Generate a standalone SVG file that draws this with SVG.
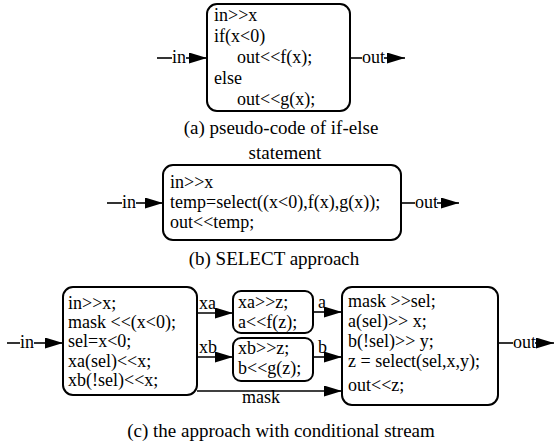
<svg xmlns="http://www.w3.org/2000/svg" width="555" height="447" viewBox="0 0 555 447" font-family="Liberation Serif, Times New Roman, DejaVu Serif, serif">
<style>
.box{fill:#fff;stroke:#000;stroke-width:2}
.ln{fill:none;stroke:#000;stroke-width:1.6}
text{font-family:'Liberation Serif','Times New Roman','DejaVu Serif',serif;font-size:18px;fill:#000}
.cap{font-size:19px;text-anchor:middle}
</style>
<defs>
<marker id="ah" markerUnits="userSpaceOnUse" markerWidth="20" markerHeight="12" refX="18" refY="5.5" orient="auto">
<path d="M0,0 L18,5.5 L0,11 z" fill="#000"/>
</marker>
</defs>
<rect width="555" height="447" fill="#fff"/>

<g id="connectors">
<line class="ln" x1="157" y1="58" x2="172" y2="58"/>
<line class="ln" x1="186" y1="58" x2="207" y2="58" marker-end="url(#ah)"/>
<line class="ln" x1="350" y1="58" x2="362" y2="58"/>
<line class="ln" x1="384" y1="58" x2="405" y2="58" marker-end="url(#ah)"/>
<text x="172" y="63">in</text>
<text x="362" y="63">out</text>
<line class="ln" x1="107" y1="203" x2="122" y2="203"/>
<line class="ln" x1="136" y1="203" x2="163" y2="203" marker-end="url(#ah)"/>
<line class="ln" x1="401" y1="203" x2="415" y2="203"/>
<line class="ln" x1="437" y1="203" x2="459" y2="203" marker-end="url(#ah)"/>
<text x="122" y="208">in</text>
<text x="415" y="208">out</text>
<line class="ln" x1="7" y1="343" x2="20" y2="343"/>
<line class="ln" x1="34" y1="343" x2="63" y2="343" marker-end="url(#ah)"/>
<text x="20" y="348">in</text>
<line class="ln" x1="197" y1="313" x2="233" y2="313" marker-end="url(#ah)"/>
<text x="199" y="309">xa</text>
<line class="ln" x1="197" y1="357" x2="233" y2="357" marker-end="url(#ah)"/>
<text x="199" y="353">xb</text>
<line class="ln" x1="197" y1="391" x2="342" y2="391" marker-end="url(#ah)"/>
<text x="242" y="403">mask</text>
<line class="ln" x1="313" y1="312" x2="342" y2="312" marker-end="url(#ah)"/>
<text x="318" y="308">a</text>
<line class="ln" x1="313" y1="357" x2="342" y2="357" marker-end="url(#ah)"/>
<text x="318" y="353">b</text>
<line class="ln" x1="498" y1="343" x2="513" y2="343"/>
<line class="ln" x1="535" y1="343" x2="554" y2="343" marker-end="url(#ah)"/>
<text x="513" y="348">out</text>
</g>

<g id="nodeA">
<rect class="box" x="207" y="4" width="143" height="107" rx="10"/>
<text x="214" y="21">in&gt;&gt;x</text>
<text x="214" y="42">if(x&lt;0)</text>
<text x="237" y="63">out&lt;&lt;f(x);</text>
<text x="214" y="84">else</text>
<text x="237" y="105">out&lt;&lt;g(x);</text>
</g>
<g id="captionA">
<text class="cap" x="281" y="134">(a)  pseudo-code of if-else</text>
<text class="cap" x="285" y="159">statement</text>
</g>

<g id="nodeB">
<rect class="box" x="163" y="165" width="238" height="75" rx="10"/>
<text x="170" y="188">in&gt;&gt;x</text>
<text x="170" y="208">temp=select((x&lt;0),f(x),g(x));</text>
<text x="170" y="228">out&lt;&lt;temp;</text>
</g>
<g id="captionB">
<text class="cap" x="274" y="265">(b) SELECT approach</text>
</g>

<g id="nodeC1">
<rect class="box" x="63" y="287" width="134" height="108" rx="10"/>
<text x="68" y="309">in&gt;&gt;x;</text>
<text x="68" y="328">mask &lt;&lt;(x&lt;0);</text>
<text x="68" y="347">sel=x&lt;0;</text>
<text x="68" y="367">xa(sel)&lt;&lt;x;</text>
<text x="68" y="386">xb(!sel)&lt;&lt;x;</text>
</g>
<g id="nodeC2">
<rect class="box" x="233" y="291" width="80" height="42" rx="8"/>
<text x="238" y="308">xa&gt;&gt;z;</text>
<text x="238" y="328">a&lt;&lt;f(z);</text>
</g>
<g id="nodeC3">
<rect class="box" x="233" y="338" width="80" height="43" rx="8"/>
<text x="238" y="354">xb&gt;&gt;z;</text>
<text x="238" y="374">b&lt;&lt;g(z);</text>
</g>
<g id="nodeC4">
<rect class="box" x="342" y="287" width="156" height="118" rx="10"/>
<text x="348" y="307">mask &gt;&gt;sel;</text>
<text x="348" y="327">a(sel)&gt;&gt; x;</text>
<text x="348" y="347">b(!sel)&gt;&gt; y;</text>
<text x="348" y="367">z = select(sel,x,y);</text>
<text x="348" y="391">out&lt;&lt;z;</text>
</g>
<g id="captionC">
<text class="cap" x="281" y="437">(c) the approach with conditional stream</text>
</g>
</svg>
